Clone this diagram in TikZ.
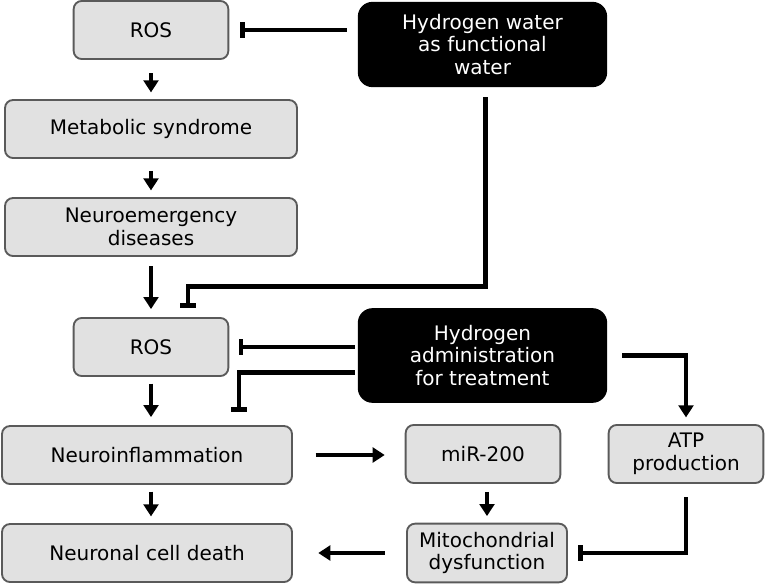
\documentclass[tikz,border=0pt]{standalone}
\usepackage{fontspec}
\setmainfont{DejaVu Sans}
\usepackage{tikz}
\usetikzlibrary{arrows.meta}
\definecolor{boxfill}{HTML}{E1E1E1}
\definecolor{boxline}{HTML}{5A5A5A}

\begin{document}
\begin{tikzpicture}[x=0.75pt, y=-0.75pt,
    box/.style={draw=boxline, fill=boxfill, line width=1.4pt, rounded corners=6pt, align=center,
        minimum width=116pt, minimum height=43.5pt, inner sep=0pt,
        font=\fontsize{15}{17}\selectfont},
    dark/.style={fill=black, text=white, rounded corners=11pt, align=center,
        minimum width=187pt, minimum height=64pt, inner sep=0pt,
        font=\fontsize{15}{17}\selectfont},
    act/.style={line width=3.6pt, -{Triangle[width=11pt, length=9pt]}},
    inh/.style={line width=3.6pt, -{Bar[width=11.5pt]}}]
    \useasboundingbox (0,0) rectangle (765,583);
    \node[box] (ros1) at (151,30) {ROS};
    \node[box, minimum width=219pt] (metab) at (151,129) {Metabolic syndrome};
    \node[box, minimum width=219pt] (neuro) at (151,227) {Neuroemergency\\diseases};
    \node[dark] (hwater) at (482.5,44.5) {Hydrogen water\\as functional\\water};
    \node[box] (ros2) at (151,347) {ROS};
    \node[dark, minimum height=71pt] (hadmin) at (482.5,355.5) {Hydrogen\\administration\\for treatment};
    \node[box, minimum width=217.5pt] (inflam) at (147,455) {Neuroinflammation};
    \node[box] (mir) at (483,454) {miR-200};
    \node[box] (atp) at (686,454) {ATP\\production};
    \node[box, minimum width=120pt, minimum height=44pt] (mito) at (487,553) {Mitochondrial\\dysfunction};
    \node[box, minimum width=217.5pt] (death) at (147,553) {Neuronal cell death};

    \draw[act, shorten <=10pt, shorten >=5pt] (ros1.south) -- (metab.north);
    \draw[act, shorten <=9pt, shorten >=5pt] (metab.south) -- (neuro.north);
    \draw[act, shorten <=7pt, shorten >=6pt] (neuro.south) -- (ros2.north);
    \draw[act, shorten <=5pt, shorten >=6pt] (ros2.south) -- (ros2.south |- inflam.north);
    \draw[act, shorten <=5pt, shorten >=5pt] (ros2.south |- inflam.south) -- (ros2.south |- death.north);
    \draw[act, shorten <=17pt, shorten >=15pt] (inflam.east) -- (inflam.east -| mir.west);
    \draw[act, shorten <=6pt, shorten >=5pt] ([xshift=3pt]mir.south) -- ([xshift=3pt]mir.south |- mito.north);
    \draw[act, shorten <=16pt, shorten >=19pt] (mito.west) -- (mito.west -| death.east);
    \draw[inh, shorten <=8pt, shorten >=8pt] (hwater.west |- ros1.east) -- (ros1.east);
    \draw[inh, shorten <=7.5pt, shorten >=6.75pt] ([xshift=2pt]hwater.south) -- ++(0,199) -| ([xshift=27.75pt]ros2.north);
    \draw[inh, shorten <=2pt, shorten >=7pt] (hadmin.west |- ros2.east) -- (ros2.east);
    \draw[inh, shorten <=2pt, shorten >=9.75pt] ([yshift=-13pt]hadmin.west) -| ([xshift=69pt]inflam.north);
    \draw[act, shorten <=11pt, shorten >=5pt] (hadmin.east) -| (atp.north);
    \draw[inh, shorten <=10pt, shorten >=7.5pt] (atp.south) |- (mito.east);
\end{tikzpicture}
\end{document}
